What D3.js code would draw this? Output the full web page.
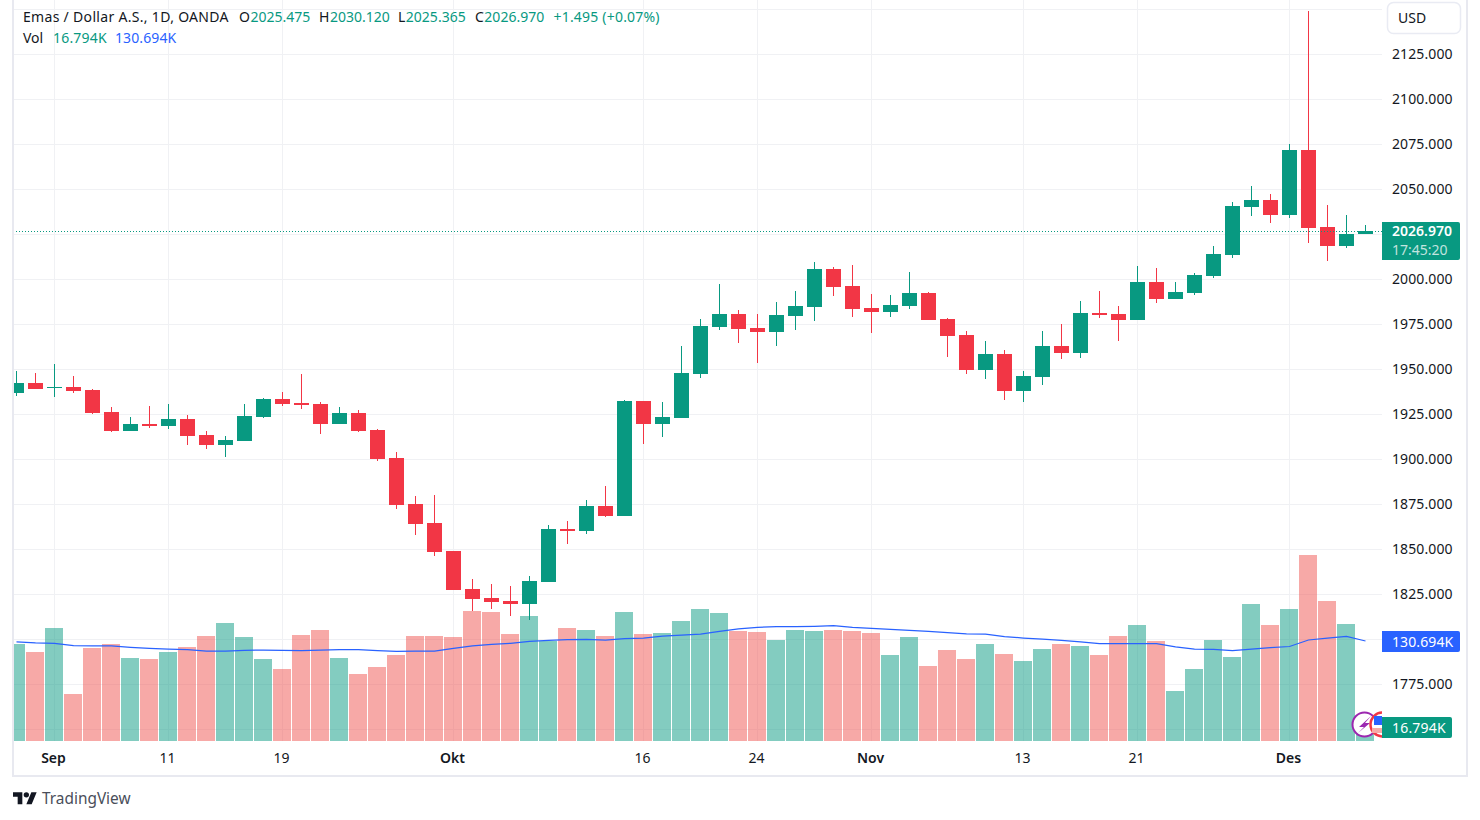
<!DOCTYPE html>
<html>
<head>
<meta charset="utf-8">
<title>Emas / Dollar A.S.</title>
<script src="https://cdn.jsdelivr.net/npm/d3@7"></script>
<style>
  html, body { margin: 0; padding: 0; background: #fff; }
  svg { display: block; font-family: "Noto Sans", sans-serif; }
</style>
</head>
<body>
<div id="chart"></div>
<script>
// daily candles
const opens = [1936.95,1942.50,1939.72,1940.28,1938.61,1926.39,1915.84,1919.72,1918.61,1922.50,1913.61,1908.06,1910.28,1923.61,1933.61,1931.39,1930.84,1919.72,1925.84,1916.39,1900.84,1875.28,1864.72,1849.17,1828.06,1823.06,1821.39,1819.72,1831.95,1861.39,1860.28,1874.17,1868.61,1932.50,1919.72,1923.06,1947.50,1973.61,1980.84,1973.06,1970.84,1979.72,1984.72,2005.83,1996.39,1984.17,1981.95,1985.28,1992.50,1978.06,1969.17,1949.72,1958.61,1938.06,1945.84,1963.06,1959.17,1981.39,1980.84,1977.50,1998.61,1989.17,1992.50,2001.95,2013.61,2040.28,2044.17,2035.83,2071.94,2029.17,2018.61,2025.475];
const highs = [1949.17,1948.06,1953.06,1946.39,1939.17,1929.17,1923.61,1929.72,1930.84,1924.72,1915.84,1913.06,1930.84,1934.17,1937.50,1947.50,1931.95,1929.17,1927.50,1916.95,1904.17,1879.72,1880.28,1849.17,1833.61,1830.84,1829.72,1835.28,1863.61,1865.84,1877.50,1885.28,1933.06,1932.50,1931.95,1963.06,1978.06,1997.50,1983.06,1980.84,1987.50,1993.61,2009.72,2006.95,2008.06,1991.95,1991.39,2004.17,1993.06,1978.61,1971.39,1965.84,1960.84,1949.17,1971.39,1975.28,1988.06,1993.61,1985.28,2007.50,2006.39,1998.61,2003.61,2018.61,2043.06,2051.95,2047.50,2075.28,2149.17,2041.39,2035.83,2030.12];
const lows = [1935.28,1939.17,1934.72,1936.95,1925.28,1915.28,1915.84,1917.50,1916.95,1908.06,1905.84,1901.39,1910.28,1923.06,1929.72,1928.06,1914.17,1919.72,1915.28,1899.17,1872.50,1858.06,1846.39,1827.50,1815.84,1816.95,1813.06,1810.84,1831.95,1853.06,1858.61,1868.06,1868.61,1908.61,1912.50,1923.06,1945.28,1971.95,1964.72,1953.61,1963.06,1971.95,1976.95,1990.84,1979.17,1970.28,1979.17,1983.61,1977.50,1956.95,1947.50,1944.72,1933.06,1931.95,1941.39,1955.84,1956.39,1978.61,1965.84,1977.50,1986.95,1989.17,1991.39,2000.84,2011.95,2035.28,2031.39,2034.17,2020.28,2010.28,2017.50,2025.365];
const closes = [1942.50,1939.17,1940.28,1938.06,1925.84,1915.84,1919.72,1918.61,1922.50,1913.06,1908.06,1910.84,1924.17,1933.61,1930.84,1930.28,1919.72,1925.84,1915.84,1900.28,1874.72,1864.17,1848.61,1827.50,1822.50,1820.84,1819.72,1832.50,1861.39,1860.28,1874.17,1868.61,1932.50,1919.72,1923.61,1948.06,1974.17,1980.84,1972.50,1970.84,1980.28,1985.28,2005.83,1995.84,1983.61,1981.95,1985.84,1992.50,1977.50,1968.61,1949.72,1958.61,1938.06,1946.39,1963.06,1959.17,1981.39,1980.28,1977.50,1998.61,1989.17,1993.06,2002.50,2014.17,2040.83,2044.17,2035.83,2071.94,2028.61,2018.61,2025.28,2026.97];

// volume and its moving average, in thousands
const volumes = [126.8,116.3,147.7,61.4,121.5,126.8,108.5,107.2,116.3,122.9,137.2,154.2,135.9,107.2,94.1,138.5,145.1,108.5,87.6,96.7,112.4,137.2,137.2,135.9,169.9,168.6,139.8,163.4,130.7,147.7,145.1,137.2,168.6,139.8,141.1,156.8,172.5,167.3,143.8,142.5,132.0,145.1,143.8,145.1,143.8,141.1,112.4,135.9,98.0,118.9,107.2,126.8,113.7,104.6,120.2,126.8,124.2,112.4,137.2,151.6,130.7,65.3,94.1,132.0,109.8,179.0,151.6,172.5,243.1,183.0,152.9,16.794];
const volumeMA = [129.4,128.1,127.7,124.5,124.2,124.2,122.5,121.2,120.2,119.3,117.6,117.6,118.5,118.9,118.5,118.0,118.9,119.3,119.3,118.0,117.2,117.6,117.6,121.2,124.2,126.4,127.7,130.3,131.6,132.4,132.9,132.0,133.7,134.6,137.2,138.5,139.8,143.4,146.4,148.6,149.4,149.4,149.9,150.7,148.6,147.3,146.0,144.7,143.4,141.5,140.1,139.8,136.3,134.6,133.3,131.6,129.4,127.2,127.2,127.2,127.2,122.9,120.2,119.8,118.0,120.2,121.9,123.5,132.0,134.6,136.8,130.694];

// price axis and date axis
const priceTicks = [2150,2125,2100,2075,2050,2025,2000,1975,1950,1925,1900,1875,1850,1825,1800,1775,1750];
const hiddenPriceLabels = [2150,1750]; // covered by the USD button and the volume label
const dateTickIndex = [2,8,14,23,33,39,45,53,59,67];
const dateTickLabels = ["Sep","11","19","Okt","16","24","Nov","13","21","Des"];
const monthLabels = ["Sep","Okt","Nov","Des"];

const lastPrice = 2026.97;
const lastVolume = 16.794;
const lastVolumeMA = 130.694;

const UP = "#089981", DOWN = "#f23645";
const GRID = "#f0f1f4", BORDER = "#e8e9f0", TEXT = "#131722";

const width = 1480, height = 820;
const paneLeft = 13, paneRight = 1382, paneBottom = 741;

const svg = d3.select("#chart").append("svg")
  .attr("width", width)
  .attr("height", height);

// one candle every 19px, price is 1.8px per dollar
const x = d3.scaleLinear().domain([0, 71]).range([16.5, 1365.5]);
const y = d3.scaleLinear().domain([2125, 1775]).range([54.5, 684.5]);
const yVol = d3.scaleLinear().domain([0, lastVolumeMA]).range([paneBottom, 641]);

svg.append("defs").append("clipPath").attr("id", "pane")
  .append("rect")
  .attr("x", paneLeft).attr("y", 0)
  .attr("width", paneRight - paneLeft).attr("height", paneBottom);

// grid
svg.append("g").selectAll("line")
  .data(priceTicks)
  .join("line")
  .attr("x1", paneLeft).attr("x2", paneRight)
  .attr("y1", d => y(d)).attr("y2", d => y(d))
  .attr("stroke", GRID);

svg.append("g").selectAll("line")
  .data(dateTickIndex)
  .join("line")
  .attr("x1", d => x(d)).attr("x2", d => x(d))
  .attr("y1", 0).attr("y2", paneBottom)
  .attr("stroke", GRID);

const pane = svg.append("g").attr("clip-path", "url(#pane)");
const idx = d3.range(closes.length);
const isUp = i => closes[i] >= opens[i];

// volume sits behind the candles
pane.append("g").selectAll("rect")
  .data(idx)
  .join("rect")
  .attr("x", i => x(i) - 9.5)
  .attr("width", 18)
  .attr("y", i => Math.round(yVol(volumes[i])))
  .attr("height", i => paneBottom - Math.round(yVol(volumes[i])))
  .attr("fill", i => isUp(i) ? UP : "#ef5350")
  .attr("fill-opacity", 0.5);

pane.append("path")
  .datum(idx)
  .attr("fill", "none")
  .attr("stroke", "#2962ff")
  .attr("stroke-width", 1.25)
  .attr("d", d3.line().x(i => x(i)).y(i => yVol(volumeMA[i])));

// dotted last price line
svg.append("line")
  .attr("x1", paneLeft).attr("x2", paneRight)
  .attr("y1", 231.5).attr("y2", 231.5)
  .attr("stroke", UP)
  .attr("stroke-dasharray", "1 2");

const candles = pane.append("g").selectAll("g")
  .data(idx)
  .join("g")
  .attr("fill", i => isUp(i) ? UP : DOWN);

candles.append("rect")
  .attr("x", i => x(i) - 0.5)
  .attr("width", 1)
  .attr("y", i => Math.round(y(highs[i])))
  .attr("height", i => Math.round(y(lows[i])) - Math.round(y(highs[i])));

candles.append("rect")
  .attr("x", i => x(i) - 7.5)
  .attr("width", 15)
  .attr("y", i => Math.round(y(Math.max(opens[i], closes[i]))))
  .attr("height", i => Math.max(1, Math.round(y(Math.min(opens[i], closes[i]))) - Math.round(y(Math.max(opens[i], closes[i])))));

// frame
svg.append("g").attr("fill", BORDER).call(g => {
  g.append("rect").attr("x", 12).attr("y", 0).attr("width", 2).attr("height", 776);
  g.append("rect").attr("x", 1466).attr("y", 0).attr("width", 2).attr("height", 776);
  g.append("rect").attr("x", 12).attr("y", 775).attr("width", 1456).attr("height", 2);
});

// price axis
svg.append("g").selectAll("text")
  .data(priceTicks.filter(d => !hiddenPriceLabels.includes(d)))
  .join("text")
  .attr("x", 1392)
  .attr("y", d => y(d) + 4.5)
  .attr("font-size", 14)
  .attr("letter-spacing", 0.1)
  .attr("fill", TEXT)
  .text(d => d3.format(".3f")(d));

// date axis
svg.append("g").selectAll("text")
  .data(dateTickIndex)
  .join("text")
  .attr("x", d => x(d) - 1)
  .attr("y", 763)
  .attr("text-anchor", "middle")
  .attr("font-size", 14)
  .attr("fill", TEXT)
  .attr("font-weight", (d, i) => monthLabels.includes(dateTickLabels[i]) ? 600 : 400)
  .text((d, i) => dateTickLabels[i]);

// USD button
svg.append("rect")
  .attr("x", 1387.5).attr("y", 2.5)
  .attr("width", 73).attr("height", 31).attr("rx", 6)
  .attr("fill", "#fff")
  .attr("stroke", "#e9ebf3").attr("stroke-width", 1.5);
svg.append("text")
  .attr("x", 1398).attr("y", 22.5)
  .attr("font-size", 14).attr("fill", TEXT)
  .text("USD");

// event markers at the last bar
const markers = svg.append("g").attr("clip-path", "url(#pane)");
markers.append("circle")
  .attr("cx", 1364.5).attr("cy", 724.5).attr("r", 12)
  .attr("fill", "#fff").attr("stroke", "#9c27b0").attr("stroke-width", 2);
markers.append("path")
  .attr("d", "M1371 716 L1359 727 L1364 727 L1358 733 L1370 723 L1365 723 Z")
  .attr("fill", "#9c27b0");
markers.append("circle")
  .attr("cx", 1382.5).attr("cy", 724.5).attr("r", 12)
  .attr("fill", "#fff").attr("stroke", "#f23645").attr("stroke-width", 2.5);
markers.append("rect")
  .attr("x", 1374).attr("y", 716).attr("width", 8).attr("height", 9)
  .attr("fill", "#2962ff");
markers.append("rect")
  .attr("x", 1372).attr("y", 728).attr("width", 10).attr("height", 5)
  .attr("fill", "#f7a9a7");

// last value labels
function priceLabel(top, h, w, fill) {
  svg.append("path")
    .attr("d", `M${paneRight} ${top}H${paneRight + w - 2}a2 2 0 0 1 2 2V${top + h - 2}a2 2 0 0 1 -2 2H${paneRight}Z`)
    .attr("fill", fill);
}

priceLabel(222, 38, 78, UP);
svg.append("text")
  .attr("x", 1392).attr("y", 236)
  .attr("font-size", 14).attr("font-weight", 600).attr("fill", "#fff")
  .text(d3.format(".3f")(lastPrice));
svg.append("text")
  .attr("x", 1392).attr("y", 255)
  .attr("font-size", 14).attr("fill", "#fff").attr("fill-opacity", 0.75)
  .text("17:45:20");

priceLabel(631, 21, 78, "#2962ff");
svg.append("text")
  .attr("x", 1392).attr("y", 646.5)
  .attr("font-size", 14).attr("letter-spacing", 0.1).attr("fill", "#fff")
  .text(d3.format(".3f")(lastVolumeMA) + "K");

priceLabel(717, 21, 70, UP);
svg.append("text")
  .attr("x", 1392).attr("y", 732.5)
  .attr("font-size", 14).attr("letter-spacing", 0.2).attr("fill", "#fff")
  .text(d3.format(".3f")(lastVolume) + "K");

// legend lines, the letters run a bit wider than Noto Sans
const legend = svg.append("g").attr("font-size", 14).attr("fill", TEXT);
const line1 = legend.append("text").attr("y", 22);
line1.append("tspan").attr("x", 23).attr("letter-spacing", 0.31).text("Emas / Dollar A.S., 1D, OANDA");
[["O", opens, 239], ["H", highs, 319], ["L", lows, 398], ["C", closes, 475]].forEach(([k, arr, px]) => {
  line1.append("tspan").attr("x", px).attr("letter-spacing", 0).text(k);
  line1.append("tspan").attr("fill", UP).attr("dx", 0.5).text(d3.format(".3f")(arr[71]));
});
line1.append("tspan").attr("x", 553.5).attr("letter-spacing", 0.2).attr("fill", UP).text("+1.495 (+0.07%)");

const line2 = legend.append("text").attr("y", 43);
line2.append("tspan").attr("x", 23).text("Vol");
line2.append("tspan").attr("x", 53).attr("letter-spacing", 0.2).attr("fill", UP).text(d3.format(".3f")(lastVolume) + "K");
line2.append("tspan").attr("x", 115).attr("letter-spacing", 0.1).attr("fill", "#2962ff").text(d3.format(".3f")(lastVolumeMA) + "K");

// TradingView mark
svg.append("path")
  .attr("transform", "translate(13,789.5) scale(0.667)")
  .attr("d", "M14 22H7V11H0V4h14v18zM28 22h-8l7.5-18h8L28 22z")
  .attr("fill", "#131722");
svg.append("circle")
  .attr("transform", "translate(13,789.5) scale(0.667)")
  .attr("cx", 20).attr("cy", 8).attr("r", 4)
  .attr("fill", "#131722");
svg.append("text")
  .attr("x", 42).attr("y", 804)
  .attr("font-size", 15.4).attr("fill", "#4a4e5a")
  .text("TradingView");
</script>
</body>
</html>
